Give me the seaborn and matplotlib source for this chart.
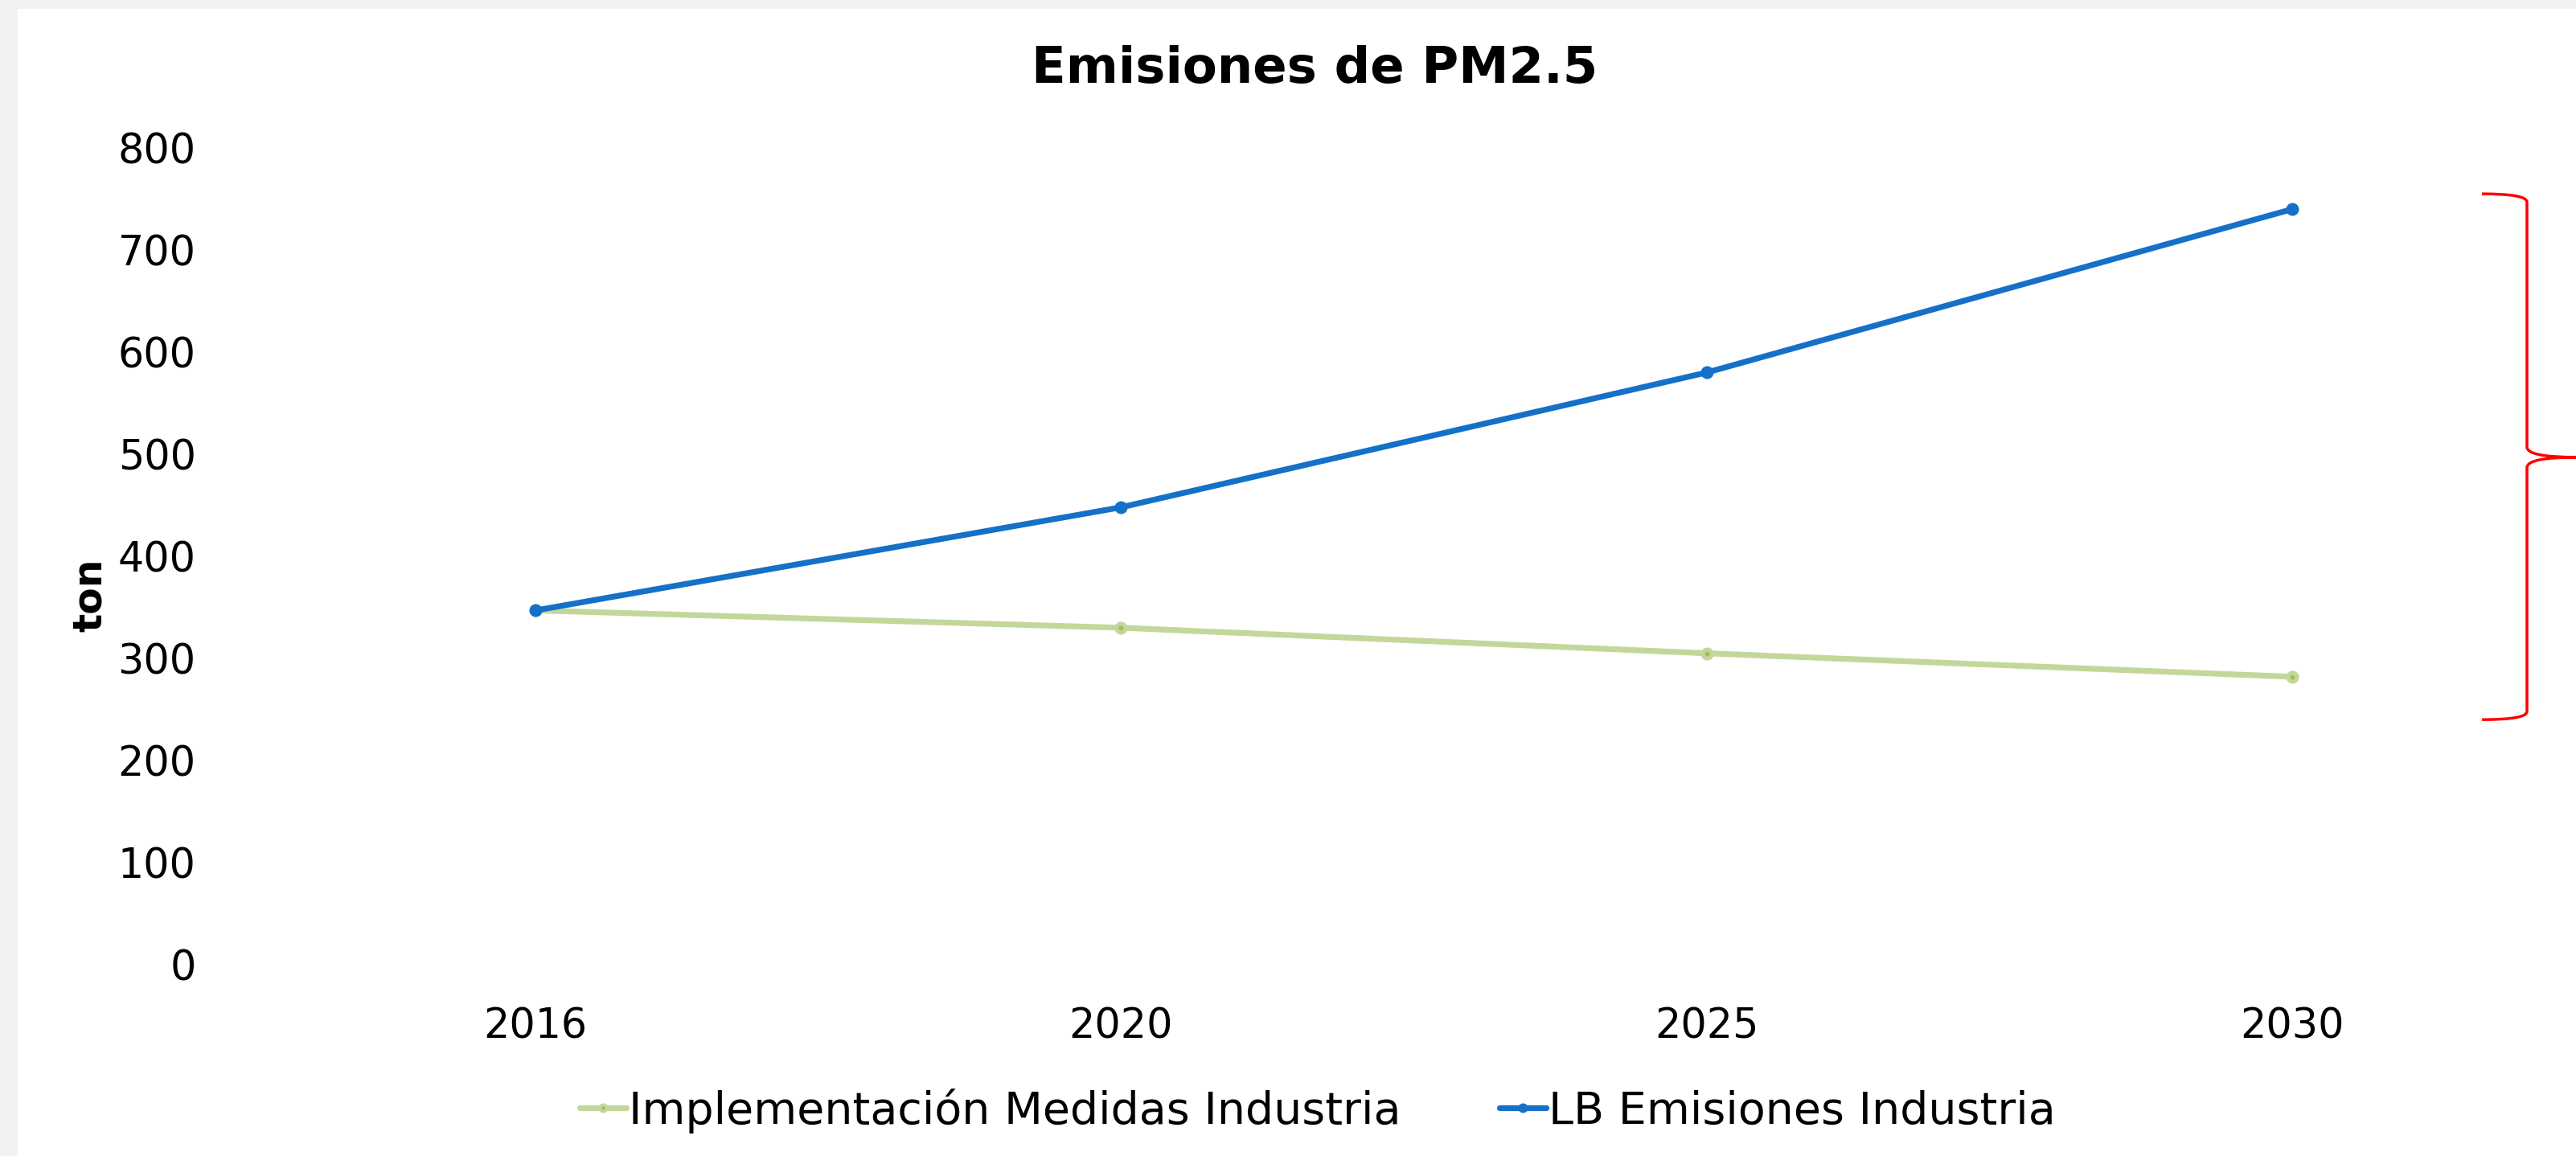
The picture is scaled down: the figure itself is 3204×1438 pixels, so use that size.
import numpy as np
import pandas as pd
import matplotlib
matplotlib.use("Agg")
import matplotlib.pyplot as plt
from matplotlib.path import Path
from matplotlib.patches import PathPatch, Rectangle
from matplotlib.lines import Line2D
import seaborn as sns

# data
years = ["2016", "2020", "2025", "2030"]
lb_emisiones = [347, 448, 580, 740]
impl_medidas = [347, 330, 305, 282]
series_names = ["Implementación Medidas Industria", "LB Emisiones Industria"]
series_colors = ["#C4D79B", "#1570C8"]
marker_faces = ["#9FC05A", "#1570C8"]
y_ticks = [0, 100, 200, 300, 400, 500, 600, 700, 800]
# red brace on the right (ton)
brace_top, brace_mid, brace_bottom = 755, 497, 240

df = pd.DataFrame({
    "year": years * 2,
    "ton": impl_medidas + lb_emisiones,
    "serie": [series_names[0]] * 4 + [series_names[1]] * 4,
})

sns.set_theme(style="white")
plt.rcParams["font.family"] = ["DejaVu Sans"]
plt.rcParams["text.color"] = "black"

W, H = 3205, 1438
fig = plt.figure(figsize=(W / 100, H / 100), dpi=100)
fig.patch.set_facecolor("#F2F2F2")
fig.patches.append(Rectangle((22 / W, 0), 1 - 22 / W, 1 - 11 / H,
                             transform=fig.transFigure, facecolor="white",
                             edgecolor="none", zorder=-5))

x_left, x_right = 302, 3205
y_bottom, y_top = 1200, 184
ax = fig.add_axes([x_left / W, 1 - y_bottom / H, (x_right - x_left) / W, (y_bottom - y_top) / H])
ax.set_facecolor("none")
ax.set_zorder(2)

# green series: light ring with darker centre, blue: solid dot
marker_kw = [dict(markersize=8, markeredgewidth=3.6),
             dict(markersize=11.5, markeredgewidth=0)]
for name, color, face, mk in zip(series_names, series_colors, marker_faces, marker_kw):
    sub = df[df["serie"] == name]
    sns.lineplot(data=sub, x="year", y="ton", color=color, linewidth=5.2,
                 marker="o", markeredgecolor=color, markerfacecolor=face,
                 sort=False, ax=ax, legend=False, **mk)

step = 728.3
ax.set_xlim(-0.5, -0.5 + (x_right - x_left) / step)
ax.set_ylim(0, 800)
ax.set_yticks(y_ticks)
ax.tick_params(axis="both", length=0, labelsize=36.5, colors="black")
ax.tick_params(axis="y", pad=42)
ax.tick_params(axis="x", pad=38)
for s in ax.spines.values():
    s.set_visible(False)
ax.set_xlabel("")
ax.set_ylabel("")

# brace
bx0 = (3087 - x_left) / step - 0.5
bx1 = (3143 - x_left) / step - 0.5
bx2 = (3205 - x_left) / step - 0.5
verts = [
    (bx0, brace_top), (bx1, brace_top), (bx1, brace_top - 8),
    (bx1, brace_mid + 10),
    (bx1, brace_mid), (bx2, brace_mid),
    (bx1, brace_mid), (bx1, brace_mid - 10),
    (bx1, brace_bottom + 8),
    (bx1, brace_bottom), (bx0, brace_bottom),
]
codes = [Path.MOVETO, Path.CURVE3, Path.CURVE3, Path.LINETO,
         Path.CURVE3, Path.CURVE3, Path.CURVE3, Path.CURVE3,
         Path.LINETO, Path.CURVE3, Path.CURVE3]
ax.add_patch(PathPatch(Path(verts, codes), facecolor="none", edgecolor="#FF0000",
                       linewidth=2.5, clip_on=False))

fig.text(1635 / W, 1 - 86 / H, "Emisiones de PM2.5", ha="center", va="center",
         fontsize=45, fontweight="bold", color="black")
fig.text(112 / W, 1 - 740 / H, "ton", ha="center", va="center", rotation=90,
         fontsize=35, fontweight="bold", color="black")

handles = [Line2D([], [], color=c, linewidth=5.2, marker="o", markeredgecolor=c,
                  markerfacecolor=f, markersize=mk["markersize"] * 0.75,
                  markeredgewidth=mk["markeredgewidth"] * 0.75)
           for c, f, mk in zip(series_colors, marker_faces, marker_kw)]
leg = fig.legend(handles, series_names, loc="center", bbox_to_anchor=(1639 / W, 1 - 1382 / H),
                 ncol=2, frameon=False, fontsize=40, handlelength=1.05, handletextpad=0.05,
                 columnspacing=2.2)
for t in leg.get_texts():
    t.set_color("black")

fig.savefig("out.png", dpi=100, facecolor=fig.get_facecolor())
